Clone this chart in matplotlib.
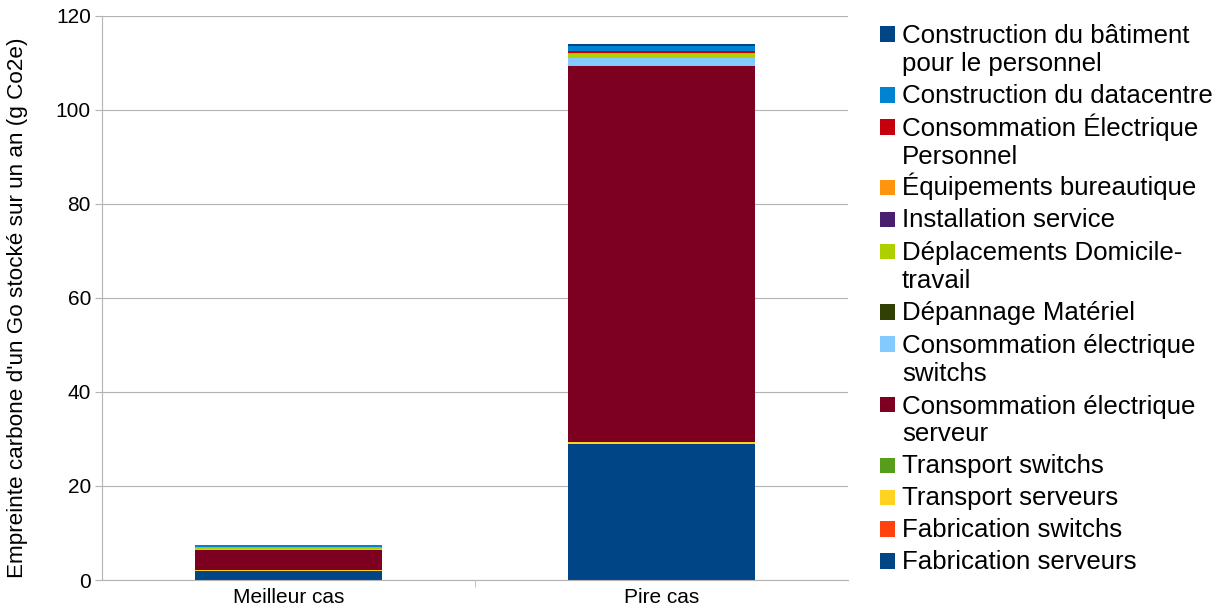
import matplotlib
matplotlib.use("Agg")
import matplotlib.pyplot as plt
from matplotlib.patches import Rectangle
import numpy as np

plt.rcParams['font.family'] = ['Liberation Sans', 'DejaVu Sans']

categories = ["Meilleur cas", "Pire cas"]

series_names = [
    "Fabrication serveurs",
    "Fabrication switchs",
    "Transport serveurs",
    "Transport switchs",
    "Consommation électrique\nserveur",
    "Consommation électrique\nswitchs",
    "Dépannage Matériel",
    "Déplacements Domicile-\ntravail",
    "Installation service",
    "Équipements bureautique",
    "Consommation Électrique\nPersonnel",
    "Construction du datacentre",
    "Construction du bâtiment\npour le personnel",
]

fabrication_serveurs = [1.9, 28.9]
fabrication_switchs = [0.05, 0.05]
transport_serveurs = [0.1, 0.4]
transport_switchs = [0.05, 0.05]
conso_serveur = [4.3, 80.0]
conso_switchs = [0.1, 1.6]
depannage = [0.2, 0.15]
deplacements = [0.15, 0.7]
installation = [0.05, 0.1]
equipements = [0.05, 0.2]
conso_personnel = [0.05, 0.3]
construction_datacentre = [0.35, 1.2]
construction_batiment = [0.1, 0.4]

values = [fabrication_serveurs, fabrication_switchs, transport_serveurs, transport_switchs,
          conso_serveur, conso_switchs, depannage, deplacements, installation, equipements,
          conso_personnel, construction_datacentre, construction_batiment]

colors = ["#004586", "#ff420e", "#ffd320", "#579d1c", "#7e0021", "#83caff", "#314004",
          "#aecf00", "#4b1f6f", "#ff950e", "#c5000b", "#0084d1", "#004586"]

W, H = 1225, 610
fig = plt.figure(figsize=(W / 100, H / 100), dpi=100)
ax = fig.add_axes([102 / W, 1 - 580 / H, (848 - 102) / W, (580 - 16) / H])

x = np.arange(len(categories))
bottom = np.zeros(len(categories))
for name, vals, c in zip(series_names, values, colors):
    ax.bar(x, vals, width=0.5, bottom=bottom, color=c, label=name, linewidth=0)
    bottom += np.array(vals)

ax.set_xlim(-0.5, 1.5)
ax.set_ylim(0, 120)
ax.set_yticks(np.arange(0, 121, 20))
ax.set_xticks(x)
ax.set_xticklabels(categories)
ax.set_xticks([0.5], minor=True)
ax.tick_params(axis='x', which='major', length=0, labelsize=15, pad=6)
ax.tick_params(axis='x', which='minor', length=5, color='#b3b3b3')
ax.tick_params(axis='y', length=5, color='#b3b3b3', labelsize=15, pad=3)
ax.grid(axis='y', color='#b3b3b3', linewidth=0.8)
ax.set_axisbelow(True)
for s in ['top', 'right']:
    ax.spines[s].set_visible(False)
for s in ['left', 'bottom']:
    ax.spines[s].set_color('#b3b3b3')

fig.text(18 / W, 1 - 308 / H, "Empreinte carbone d'un Go stocké sur un an (g Co2e)",
         rotation=90, ha='center', va='center', fontsize=16.2)

# Manual legend (reverse order, square swatches aligned with first line)
line_pitch = 29.0
item_pitch = 31.8
baseline = 42.0
for name, c in zip(series_names[::-1], colors[::-1]):
    nlines = name.count("\n")
    fig.patches.append(Rectangle((880 / W, 1 - baseline / H), 15 / W, 15.5 / H,
                                 transform=fig.transFigure, facecolor=c,
                                 edgecolor='none'))
    last_baseline = baseline + nlines * line_pitch
    fig.text(902 / W, 1 - last_baseline / H, name, ha='left', va='baseline',
             fontsize=18.6, linespacing=1.2)
    baseline = last_baseline + item_pitch

fig.savefig("out.png", dpi=100)
